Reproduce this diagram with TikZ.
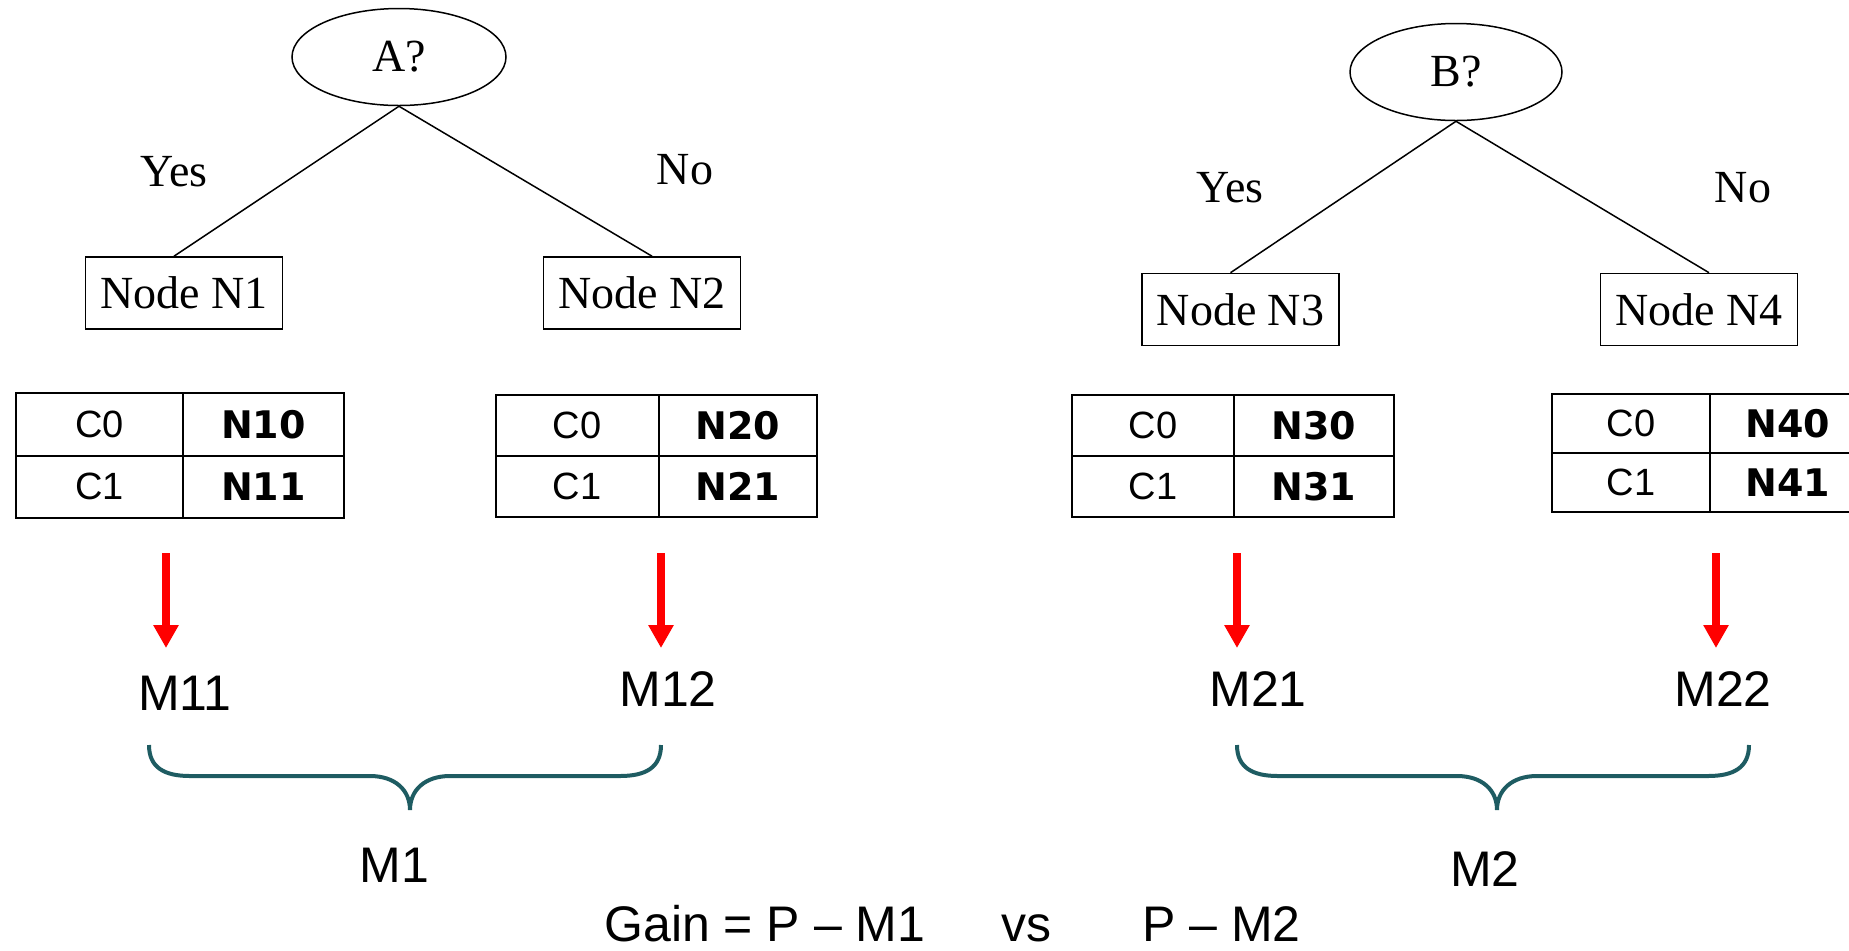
\documentclass[tikz,border=0pt]{standalone}
\usepackage{fontspec}
\setmainfont{Liberation Serif}
\newfontfamily\arialf{Liberation Sans}
\newfontfamily\widebold{DejaVu Sans}
\usetikzlibrary{shapes.geometric,arrows.meta}
\definecolor{bracecol}{RGB}{30,92,98}
\definecolor{arrowred}{RGB}{255,0,0}
\tikzset{
  question/.style={draw, ellipse, line width=0.75pt, inner sep=0pt,
    font=\fontsize{23pt}{27pt}\selectfont},
  treebox/.style={draw, rectangle, line width=0.8pt, inner sep=0pt,
    minimum width=98.5pt, minimum height=36pt,
    font=\fontsize{23pt}{27pt}\selectfont},
  branch/.style={line width=0.75pt},
  branchlabel/.style={anchor=base, inner sep=0pt,
    font=\fontsize{23pt}{27pt}\selectfont},
  cell/.style={draw, rectangle, line width=1pt, inner sep=0pt,
    font=\arialf\fontsize{19pt}{23pt}\selectfont},
  boldcell/.style={cell, font=\widebold\bfseries\fontsize{19pt}{23pt}\selectfont},
  redarrow/.style={draw=arrowred, line width=3.75pt,
    -{Triangle[width=12pt,length=11.5pt]}},
  mlabel/.style={anchor=base, inner sep=0pt,
    font=\arialf\fontsize{25pt}{30pt}\selectfont},
  gainlabel/.style={anchor=base west, inner sep=0pt,
    font=\arialf\fontsize{25pt}{30pt}\selectfont},
  bracepath/.style={draw=bracecol, line width=2pt}
}
\begin{document}
\begin{tikzpicture}[x=0.5pt,y=-0.5pt]
\useasboundingbox (0,0) rectangle (1849,950);
\clip (0,0) rectangle (1849,950);

% ---------- left tree ----------
\node[question, minimum width=107pt, minimum height=48.5pt] (A) at (399,57) {A?};
\node[treebox] (n1) at (184,293) {Node N1};
\node[treebox] (n2) at (642,293) {Node N2};
\draw[branch] (A.south) -- ([xshift=-5pt]n1.north);
\draw[branch] (A.south) -- ([xshift=5pt]n2.north);
\node[branchlabel] (yes1) at (174,186) {Yes};
\node[branchlabel] (no1) at (685,184) {No};

% ---------- right tree ----------
\node[question, minimum width=106pt, minimum height=48.5pt] (B) at (1456,72) {B?};
\node[treebox] (n3) at (1240.5,309.5) {Node N3};
\node[treebox] (n4) at (1699,309.5) {Node N4};
\draw[branch] (B.south) -- ([xshift=-5pt]n3.north);
\draw[branch] (B.south) -- ([xshift=5pt]n4.north);
\node[branchlabel] (yes2) at (1230,202) {Yes};
\node[branchlabel] (no2) at (1743,202) {No};

% ---------- tables ----------
% table 1
\node[cell, minimum width=83.5pt, minimum height=31.25pt] (t1c0) at (99.5,424.25) {C0};
\node[boldcell, minimum width=80.5pt, minimum height=31.25pt] (t1n10) at (263.5,424.25) {N10};
\node[cell, minimum width=83.5pt, minimum height=31.25pt] (t1c1) at (99.5,486.75) {C1};
\node[boldcell, minimum width=80.5pt, minimum height=31.25pt] (t1n11) at (263.5,486.75) {N11};
% table 2
\node[cell, minimum width=81.25pt, minimum height=30.5pt] (t2c0) at (577.25,425.5) {C0};
\node[boldcell, minimum width=79.25pt, minimum height=30.5pt] (t2n20) at (737.75,425.5) {N20};
\node[cell, minimum width=81.25pt, minimum height=30.5pt] (t2c1) at (577.25,486.5) {C1};
\node[boldcell, minimum width=79.25pt, minimum height=30.5pt] (t2n21) at (737.75,486.5) {N21};
% table 3
\node[cell, minimum width=81pt, minimum height=30.5pt] (t3c0) at (1153,425.5) {C0};
\node[boldcell, minimum width=80pt, minimum height=30.5pt] (t3n30) at (1314,425.5) {N30};
\node[cell, minimum width=81pt, minimum height=30.5pt] (t3c1) at (1153,486.5) {C1};
\node[boldcell, minimum width=80pt, minimum height=30.5pt] (t3n31) at (1314,486.5) {N31};
% table 4 (runs off the right edge)
\node[cell, minimum width=79pt, minimum height=29.5pt] (t4c0) at (1631,423.5) {C0};
\node[boldcell, minimum width=78pt, minimum height=29.5pt] (t4n40) at (1788,423.5) {N40};
\node[cell, minimum width=79pt, minimum height=29.5pt] (t4c1) at (1631,482.5) {C1};
\node[boldcell, minimum width=78pt, minimum height=29.5pt] (t4n41) at (1788,482.5) {N41};

% ---------- red arrows ----------
\coordinate (a1s) at (166,553);  \coordinate (a1e) at (166,648);
\coordinate (a2s) at (661,553);  \coordinate (a2e) at (661,648);
\coordinate (a3s) at (1237,553); \coordinate (a3e) at (1237,648);
\coordinate (a4s) at (1716,553); \coordinate (a4e) at (1716,648);
\draw[redarrow] (a1s) -- (a1e);
\draw[redarrow] (a2s) -- (a2e);
\draw[redarrow] (a3s) -- (a3e);
\draw[redarrow] (a4s) -- (a4e);

% ---------- M labels ----------
\node[mlabel] (m11) at (185,710) {M11};
\node[mlabel] (m12) at (668,706) {M12};
\node[mlabel] (m21) at (1258,706) {M21};
\node[mlabel] (m22) at (1723,706) {M22};

% ---------- braces ----------
\path[bracepath] (149,745) .. controls (149,768) and (165,776) .. (190,776)
  -- (370,776) .. controls (395,776) and (410,790) .. (410,810)
  .. controls (410,790) and (425,776) .. (450,776)
  -- (620,776) .. controls (645,776) and (661,768) .. (661,745);
\path[bracepath] (1237,745) .. controls (1237,768) and (1253,776) .. (1278,776)
  -- (1457,776) .. controls (1482,776) and (1497,790) .. (1497,810)
  .. controls (1497,790) and (1512,776) .. (1537,776)
  -- (1708,776) .. controls (1733,776) and (1749,768) .. (1749,745);

\node[mlabel] (m1) at (394.5,882) {M1};
\node[mlabel] (m2) at (1485,886) {M2};

% ---------- gain line ----------
\node[gainlabel] (gain1) at (604,941) {Gain = P – M1};
\node[gainlabel] (vs) at (1001,941) {vs};
\node[gainlabel] (gain2) at (1142,941) {P – M2};
\end{tikzpicture}
\end{document}
